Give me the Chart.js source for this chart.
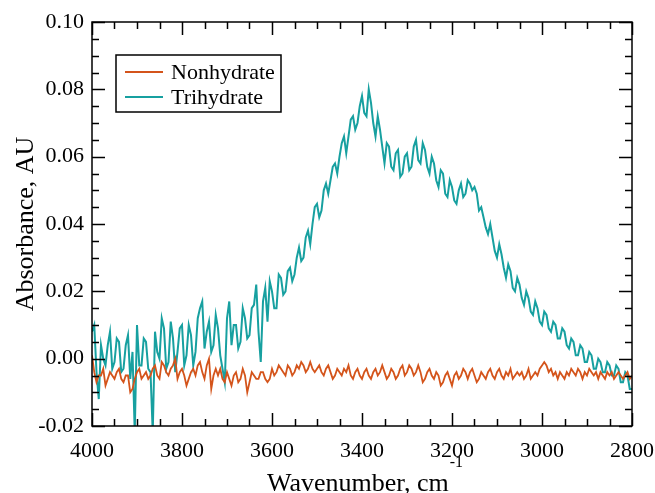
<!DOCTYPE html>
<html>
<head>
<meta charset="utf-8">
<script src="https://cdn.jsdelivr.net/npm/chart.js@4.4.0/dist/chart.umd.min.js"></script>
<style>
  html, body { margin: 0; padding: 0; background: #fff; }
  #wrap { width: 655px; height: 493px; }
</style>
</head>
<body>
<div id="wrap"><canvas id="myChart" width="655" height="493"></canvas></div>
<script>
// data (every 5 cm-1 from 4000 down to 2800)
const wavenumbers = [
    4000, 3995, 3990, 3985, 3980, 3975, 3970, 3965, 3960, 3955,
    3950, 3945, 3940, 3935, 3930, 3925, 3920, 3915, 3910, 3905,
    3900, 3895, 3890, 3885, 3880, 3875, 3870, 3865, 3860, 3855,
    3850, 3845, 3840, 3835, 3830, 3825, 3820, 3815, 3810, 3805,
    3800, 3795, 3790, 3785, 3780, 3775, 3770, 3765, 3760, 3755,
    3750, 3745, 3740, 3735, 3730, 3725, 3720, 3715, 3710, 3705,
    3700, 3695, 3690, 3685, 3680, 3675, 3670, 3665, 3660, 3655,
    3650, 3645, 3640, 3635, 3630, 3625, 3620, 3615, 3610, 3605,
    3600, 3595, 3590, 3585, 3580, 3575, 3570, 3565, 3560, 3555,
    3550, 3545, 3540, 3535, 3530, 3525, 3520, 3515, 3510, 3505,
    3500, 3495, 3490, 3485, 3480, 3475, 3470, 3465, 3460, 3455,
    3450, 3445, 3440, 3435, 3430, 3425, 3420, 3415, 3410, 3405,
    3400, 3395, 3390, 3385, 3380, 3375, 3370, 3365, 3360, 3355,
    3350, 3345, 3340, 3335, 3330, 3325, 3320, 3315, 3310, 3305,
    3300, 3295, 3290, 3285, 3280, 3275, 3270, 3265, 3260, 3255,
    3250, 3245, 3240, 3235, 3230, 3225, 3220, 3215, 3210, 3205,
    3200, 3195, 3190, 3185, 3180, 3175, 3170, 3165, 3160, 3155,
    3150, 3145, 3140, 3135, 3130, 3125, 3120, 3115, 3110, 3105,
    3100, 3095, 3090, 3085, 3080, 3075, 3070, 3065, 3060, 3055,
    3050, 3045, 3040, 3035, 3030, 3025, 3020, 3015, 3010, 3005,
    3000, 2995, 2990, 2985, 2980, 2975, 2970, 2965, 2960, 2955,
    2950, 2945, 2940, 2935, 2930, 2925, 2920, 2915, 2910, 2905,
    2900, 2895, 2890, 2885, 2880, 2875, 2870, 2865, 2860, 2855,
    2850, 2845, 2840, 2835, 2830, 2825, 2820, 2815, 2810, 2805,
    2800
];

const nonhydrate = [
    0.001, -0.004, -0.007, -0.005, -0.005, -0.003, -0.008, -0.006, -0.004, -0.005,
    -0.006, -0.004, -0.003, -0.006, -0.007, -0.005, -0.005, -0.010, -0.009, -0.006,
    -0.004, -0.003, -0.006, -0.005, -0.004, -0.006, -0.005, -0.003, -0.002, -0.005,
    -0.006, -0.001, -0.002, -0.004, -0.005, -0.003, -0.002, 0.000, -0.006, -0.004,
    -0.003, -0.005, -0.008, -0.006, -0.004, -0.003, -0.005, -0.002, -0.001, -0.004,
    -0.006, -0.002, 0.000, -0.009, -0.005, -0.003, -0.005, -0.003, -0.006, -0.007,
    -0.004, -0.006, -0.008, -0.005, -0.004, -0.007, -0.006, -0.003, -0.005, -0.010,
    -0.007, -0.004, -0.005, -0.006, -0.006, -0.004, -0.004, -0.006, -0.007, -0.006,
    -0.003, -0.005, -0.004, -0.002, -0.003, -0.004, -0.005, -0.002, -0.003, -0.005,
    -0.004, -0.002, -0.003, -0.001, -0.002, -0.004, -0.003, -0.001, -0.003, -0.004,
    -0.003, -0.002, -0.004, -0.005, -0.003, -0.002, -0.004, -0.006, -0.005, -0.003,
    -0.004, -0.005, -0.003, -0.004, -0.002, -0.005, -0.006, -0.004, -0.003, -0.005,
    -0.006, -0.004, -0.003, -0.005, -0.006, -0.004, -0.003, -0.005, -0.004, -0.002,
    -0.004, -0.006, -0.005, -0.003, -0.004, -0.006, -0.005, -0.003, -0.002, -0.005,
    -0.004, -0.002, -0.003, -0.005, -0.004, -0.002, -0.004, -0.007, -0.006, -0.004,
    -0.003, -0.005, -0.006, -0.004, -0.005, -0.008, -0.007, -0.005, -0.004, -0.006,
    -0.008, -0.005, -0.004, -0.006, -0.005, -0.003, -0.004, -0.006, -0.004, -0.003,
    -0.005, -0.007, -0.006, -0.004, -0.005, -0.006, -0.004, -0.003, -0.005, -0.006,
    -0.004, -0.003, -0.005, -0.006, -0.004, -0.005, -0.003, -0.006, -0.005, -0.004,
    -0.005, -0.004, -0.006, -0.005, -0.003, -0.006, -0.005, -0.004, -0.005, -0.003,
    -0.002, -0.001, -0.002, -0.004, -0.003, -0.005, -0.004, -0.006, -0.004, -0.005,
    -0.006, -0.004, -0.005, -0.003, -0.004, -0.005, -0.003, -0.004, -0.006, -0.004,
    -0.005, -0.003, -0.004, -0.005, -0.004, -0.006, -0.004, -0.005, -0.006, -0.004,
    -0.005, -0.004, -0.006, -0.005, -0.004, -0.005, -0.006, -0.005, -0.004, -0.006,
    -0.005
];

const trihydrate = [
    0.008, 0.010, -0.004, -0.012, 0.004, 0.000, -0.002, 0.004, 0.008, -0.003,
    -0.001, 0.006, 0.005, -0.004, -0.003, 0.004, 0.007, -0.006, 0.002, -0.022,
    0.010, -0.002, -0.002, 0.006, 0.005, -0.003, -0.004, -0.022, 0.008, 0.002,
    0.000, 0.012, 0.009, -0.003, -0.001, 0.011, 0.006, -0.004, 0.002, 0.009,
    0.010, -0.002, 0.001, 0.010, 0.007, -0.002, 0.002, 0.012, 0.015, 0.017,
    0.003, 0.008, 0.011, 0.002, 0.004, 0.013, 0.009, 0.001, -0.003, -0.007,
    0.012, 0.017, 0.004, 0.010, 0.010, 0.003, 0.005, 0.015, 0.012, 0.006,
    0.007, 0.015, 0.016, 0.022, 0.008, -0.001, 0.017, 0.021, 0.011, 0.023,
    0.020, 0.015, 0.015, 0.025, 0.024, 0.019, 0.020, 0.026, 0.027, 0.023,
    0.025, 0.030, 0.033, 0.029, 0.030, 0.036, 0.038, 0.034, 0.040, 0.045,
    0.046, 0.042, 0.044, 0.050, 0.052, 0.049, 0.053, 0.057, 0.058, 0.055,
    0.060, 0.064, 0.066, 0.061, 0.066, 0.071, 0.072, 0.068, 0.070, 0.075,
    0.078, 0.073, 0.072, 0.080, 0.076, 0.070, 0.066, 0.072, 0.068, 0.063,
    0.058, 0.064, 0.063, 0.057, 0.056, 0.061, 0.062, 0.054, 0.055, 0.060,
    0.061, 0.056, 0.057, 0.063, 0.065, 0.059, 0.058, 0.064, 0.062, 0.057,
    0.055, 0.060, 0.058, 0.053, 0.051, 0.056, 0.055, 0.049, 0.048, 0.053,
    0.051, 0.047, 0.046, 0.050, 0.052, 0.048, 0.049, 0.053, 0.052, 0.050,
    0.051, 0.049, 0.044, 0.045, 0.042, 0.039, 0.037, 0.040, 0.036, 0.032,
    0.030, 0.034, 0.031, 0.027, 0.024, 0.028, 0.026, 0.021, 0.020, 0.024,
    0.022, 0.018, 0.016, 0.020, 0.018, 0.014, 0.013, 0.017, 0.015, 0.011,
    0.010, 0.014, 0.013, 0.009, 0.008, 0.011, 0.010, 0.006, 0.006, 0.009,
    0.008, 0.004, 0.003, 0.006, 0.005, 0.001, 0.001, 0.004, 0.003, -0.001,
    -0.001, 0.002, 0.001, -0.003, -0.003, 0.000, -0.001, -0.004, -0.004, -0.001,
    -0.002, -0.005, -0.005, -0.002, -0.003, -0.007, -0.007, -0.004, -0.005, -0.009,
    -0.009
];

const xTicks = [4000, 3800, 3600, 3400, 3200, 3000, 2800];
const yTicks = [-0.02, 0.00, 0.02, 0.04, 0.06, 0.08, 0.10];

const ORANGE = '#d4541b';
const TEAL = '#17a0a0';
const SERIF = "'Liberation Serif', 'Times New Roman', serif";

const toPoints = (ys) => wavenumbers.map((w, i) => ({ x: w, y: ys[i] }));

// frame + inward ticks on all four sides
const frameTicks = {
    id: 'frameTicks',
    afterDatasetsDraw(chart) {
        const { ctx, chartArea: { left, right, top, bottom }, scales: { x, y } } = chart;
        ctx.save();
        ctx.strokeStyle = '#000';
        ctx.lineWidth = 1.5;
        ctx.strokeRect(left, top, right - left, bottom - top);
        ctx.beginPath();
        for (let v = 2800; v <= 4000; v += 50) {
            const px = Math.round(x.getPixelForValue(v)) + 0.5;
            const len = v % 200 === 0 ? 13 : 7;
            ctx.moveTo(px, bottom); ctx.lineTo(px, bottom - len);
            ctx.moveTo(px, top); ctx.lineTo(px, top + len);
        }
        for (let k = -4; k <= 20; k++) {
            const py = Math.round(y.getPixelForValue(k * 0.005)) + 0.5;
            const len = k % 4 === 0 ? 13 : 7;
            ctx.moveTo(left, py); ctx.lineTo(left + len, py);
            ctx.moveTo(right, py); ctx.lineTo(right - len, py);
        }
        ctx.stroke();
        ctx.restore();
    }
};

// boxed legend in the upper left, axis titles
const extras = {
    id: 'extras',
    afterDraw(chart) {
        const { ctx, chartArea } = chart;
        ctx.save();
        // legend
        ctx.fillStyle = '#fff';
        ctx.fillRect(116, 55, 165, 57);
        ctx.strokeStyle = '#000';
        ctx.lineWidth = 1.5;
        ctx.strokeRect(116, 55, 165, 57);
        ctx.font = '22px ' + SERIF;
        ctx.textBaseline = 'middle';
        ctx.textAlign = 'left';
        chart.data.datasets.forEach((ds, i) => {
            const yy = 72 + i * 25;
            ctx.strokeStyle = ds.borderColor;
            ctx.lineWidth = 2;
            ctx.beginPath();
            ctx.moveTo(125, yy); ctx.lineTo(163, yy);
            ctx.stroke();
            ctx.fillStyle = '#000';
            ctx.fillText(ds.label, 171, yy + 1);
        });
        // y title
        ctx.font = '26px ' + SERIF;
        ctx.fillStyle = '#000';
        ctx.translate(33, (chartArea.top + chartArea.bottom) / 2);
        ctx.rotate(-Math.PI / 2);
        ctx.textAlign = 'center';
        ctx.textBaseline = 'alphabetic';
        ctx.fillText('Absorbance, AU', 0, 0);
        ctx.setTransform(1, 0, 0, 1, 0, 0);
        // x title with superscript
        ctx.textAlign = 'left';
        const label = 'Wavenumber, cm';
        ctx.fillText(label, 267, 491);
        const w = ctx.measureText(label).width;
        ctx.font = '16px ' + SERIF;
        ctx.fillText('-1', 267 + w + 1, 467);
        ctx.restore();
    }
};

const ctx = document.getElementById('myChart');

let myChart = new Chart(ctx, {
    type: 'line',
    data: {
        datasets: [{
            label: 'Nonhydrate',
            data: toPoints(nonhydrate),
            borderColor: ORANGE,
            borderWidth: 1.8,
            pointRadius: 0,
            tension: 0
        },
        {
            label: 'Trihydrate',
            data: toPoints(trihydrate),
            borderColor: TEAL,
            borderWidth: 2,
            pointRadius: 0,
            tension: 0
        }]
    },
    options: {
        responsive: false,
        animation: false,
        layout: { padding: { top: 22, right: 23, left: 0, bottom: 0 } },
        plugins: {
            legend: { display: false },
            tooltip: { enabled: false }
        },
        scales: {
            x: {
                type: 'linear',
                reverse: true,
                min: 2800,
                max: 4000,
                afterBuildTicks: (scale) => { scale.ticks = xTicks.map(v => ({ value: v })); },
                afterFit: (scale) => {
                    scale.height = 67;
                    scale.paddingLeft = 0;
                    scale.paddingRight = 0;
                },
                grid: { display: false, drawTicks: false },
                border: { display: false },
                ticks: {
                    color: '#000',
                    padding: 12,
                    maxRotation: 0,
                    font: { family: SERIF, size: 22 },
                    callback: (v) => String(v)
                }
            },
            y: {
                min: -0.02,
                max: 0.10,
                afterBuildTicks: (scale) => { scale.ticks = yTicks.map(v => ({ value: v })); },
                afterFit: (scale) => {
                    scale.width = 92;
                    scale.paddingTop = 0;
                    scale.paddingBottom = 0;
                },
                grid: { display: false, drawTicks: false },
                border: { display: false },
                ticks: {
                    color: '#000',
                    padding: 8,
                    font: { family: SERIF, size: 22 },
                    callback: (v) => v.toFixed(2)
                }
            }
        }
    },
    plugins: [frameTicks, extras]
});
</script>
</body>
</html>
